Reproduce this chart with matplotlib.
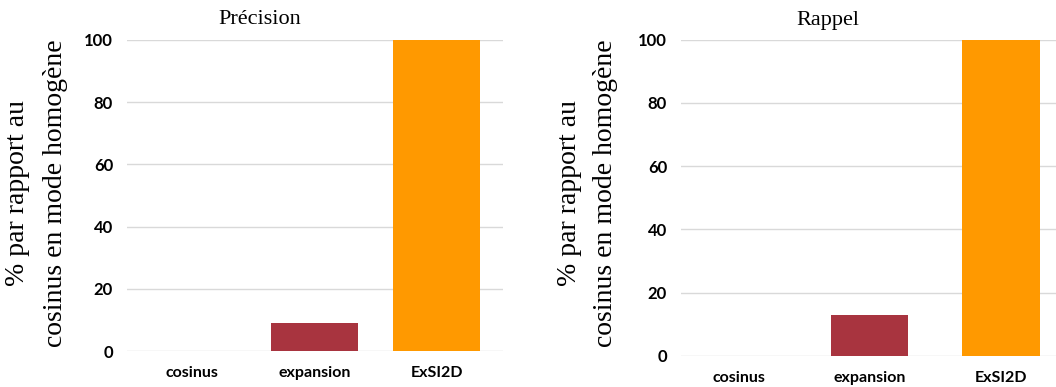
import matplotlib.pyplot as plt

categories = ["cosinus", "expansion", "ExSI2D"]
precision = [0, 9, 100]
rappel = [0, 13, 100]
bar_colors = ["#A8343F", "#A8343F", "#FF9900"]
yticks = [0, 20, 40, 60, 80, 100]

ylabel_lines = ["% par rapport au", "cosinus en mode homogène"]
serif = ["Liberation Serif", "DejaVu Serif"]
sans = "Lato"

fig = plt.figure(figsize=(10.56, 3.87), dpi=100)

# left panel: Précision
ax1 = fig.add_axes([127/1056, 36/387, 376/1056, 311/387])
# right panel: Rappel (runs off the right edge)
ax2 = fig.add_axes([681/1056, 31/387, 375/1056, 316.5/387])

panels = [
    (ax1, precision, 0.71, (-0.53, 2.54)),
    (ax2, rappel, 0.59, (-0.44, 2.42)),
]

for ax, vals, bw, xl in panels:
    x = range(len(categories))
    ax.bar(x, vals, width=bw, color=bar_colors, zorder=2)
    ax.set_xlim(*xl)
    ax.set_ylim(0, 100)
    ax.set_yticks(yticks)
    ax.set_xticks(list(x))
    ax.set_xticklabels(categories, fontfamily=sans, fontsize=11.5, fontweight="bold")
    for t in ax.get_yticklabels():
        t.set_fontfamily(sans)
        t.set_fontsize(12)
        t.set_fontweight("bold")
    ax.tick_params(length=0)
    ax.tick_params(axis="y", pad=10)
    ax.tick_params(axis="x", pad=11)
    ax.grid(axis="y", color="#d9d9d9", linewidth=1, zorder=0)
    ax.set_axisbelow(True)
    for s in ax.spines.values():
        s.set_visible(False)

# y labels, two lines each
for xpos, txt in zip([18, 55, 569, 605], ylabel_lines * 2):
    fig.text(xpos/1056, 0.5, txt, rotation=90, ha="center", va="center",
             family=serif, fontsize=20)

fig.text(260/1056, 1 - 20/387, "Précision", ha="center", va="center",
         family=serif, fontsize=16)
fig.text(828/1056, 1 - 20/387, "Rappel", ha="center", va="center",
         family=serif, fontsize=16)

fig.savefig("out.png", dpi=100)
